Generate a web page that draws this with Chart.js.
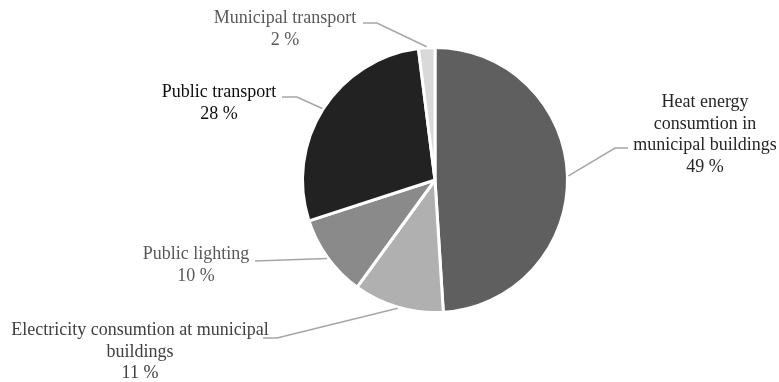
<!DOCTYPE html>
<html>
<head>
<meta charset="utf-8">
<script src="https://cdn.jsdelivr.net/npm/chart.js@4.4.0/dist/chart.umd.min.js"></script>
<style>
  html, body { margin: 0; padding: 0; background: #ffffff; }
  #wrap { width: 779px; height: 382px; position: relative; }
</style>
</head>
<body>
<div id="wrap"><canvas id="pie_canvas"></canvas></div>
<script>
const categories = [
  "Heat energy consumtion in municipal buildings",
  "Electricity consumtion at municipal buildings",
  "Public lighting",
  "Public transport",
  "Municipal transport"
];
const shares = [49, 11, 10, 28, 2];
const slice_colours = ["#5f5f5f", "#b0b0b0", "#8a8a8a", "#222222", "#d9d9d9"];

// label text lines per slice
const label_lines = [
  ["Heat energy", "consumtion in", "municipal buildings"],
  ["Electricity consumtion at municipal", "buildings"],
  ["Public lighting"],
  ["Public transport"],
  ["Municipal transport"]
];
const label_colours = ["#262626", "#404040", "#595959", "#0d0d0d", "#595959"];

// where each label sits: text centre x, first line y, elbow of the leader line
const label_layout = [
  { x: 705, y: 102, lineY: 148, fromX: 628, elbowX: 615 },
  { x: 140, y: 330, lineY: 338, fromX: 263, elbowX: 277 },
  { x: 196, y: 254, lineY: 261, fromX: 255, elbowX: 255 },
  { x: 219, y: 92, lineY: 97, fromX: 282, elbowX: 297 },
  { x: 285, y: 18, lineY: 23, fromX: 363, elbowX: 377 }
];

const lineGap = 21.8;

const pieLabels = {
  id: "pieLabels",
  afterDraw(chart) {
    const ctx = chart.ctx;
    const arcs = chart.getDatasetMeta(0).data;
    ctx.save();
    ctx.font = "18px 'Liberation Serif', 'Times New Roman', serif";
    ctx.textAlign = "center";
    ctx.textBaseline = "middle";
    arcs.forEach((arc, i) => {
      const lay = label_layout[i];
      const mid = (arc.startAngle + arc.endAngle) / 2;
      const r = arc.outerRadius + 1;
      const px = arc.x + Math.cos(mid) * r;
      const py = arc.y + Math.sin(mid) * r;

      ctx.strokeStyle = "#a6a6a6";
      ctx.lineWidth = 1.5;
      ctx.beginPath();
      ctx.moveTo(lay.fromX, lay.lineY);
      ctx.lineTo(lay.elbowX, lay.lineY);
      ctx.lineTo(px, py);
      ctx.stroke();

      const lines = label_lines[i].concat([shares[i] + " %"]);
      ctx.fillStyle = label_colours[i];
      lines.forEach((t, k) => {
        ctx.fillText(t, lay.x, lay.y + k * lineGap);
      });
    });
    ctx.restore();
  }
};

const pie_data = {
  labels: categories,
  datasets: [{
    data: shares,
    backgroundColor: slice_colours,
    borderColor: "#ffffff",
    borderWidth: 3
  }]
};

const config_pie = {
  type: "pie",
  data: pie_data,
  options: {
    responsive: false,
    animation: false,
    layout: {
      padding: { top: 46, bottom: 68, left: 200, right: 109 }
    },
    plugins: {
      legend: { display: false },
      tooltip: { enabled: false }
    }
  },
  plugins: [pieLabels]
};

const pie_canvas = document.getElementById("pie_canvas");
pie_canvas.width = 779;
pie_canvas.height = 382;
new Chart(pie_canvas.getContext("2d"), config_pie);
</script>
</body>
</html>
